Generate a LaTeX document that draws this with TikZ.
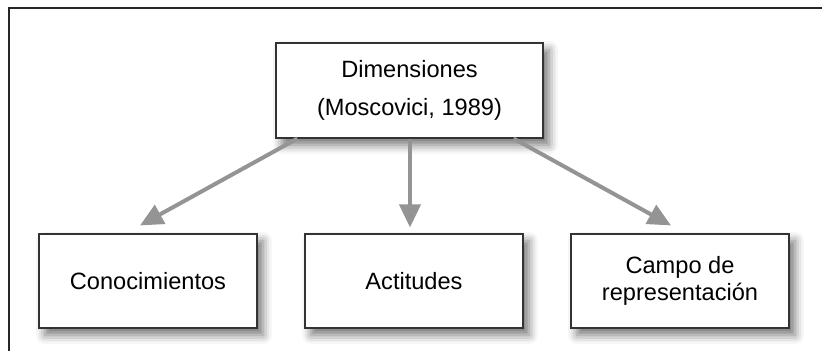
\documentclass[tikz,border=0pt]{standalone}
\usepackage{fontspec}
\setmainfont{Liberation Sans}
\usetikzlibrary{arrows.meta,calc,shadows.blur}
\newcommand{\bw}{218}

\begin{document}
\begin{tikzpicture}[x=1pt,y=1pt,
    caja/.style={draw=black!80,line width=1.1pt,fill=white,inner sep=0pt,
                 blur shadow={shadow xshift=6pt,shadow yshift=-7pt,shadow blur radius=9pt,shadow opacity=55}},
    flecha/.style={draw=black!42,line width=4pt,-{Triangle[length=23pt,width=21pt]}}]
                    \useasboundingbox (0,0) rectangle (822,351);
                    \coordinate (f1) at (822,343);
                    \coordinate (f2) at (9,0);
                    \draw[line width=2.6pt,black!85] (f1) -| (f2);
                    \node[caja,minimum width=267,minimum height=95,align=center,
                          font=\fontsize{23.6}{38}\selectfont] (dim) at (409.5,260.5)
                          {Dimensiones\\(Moscovici, 1989)};
                    \node[caja,minimum width=\bw,minimum height=94,align=center,
                          font=\fontsize{23.6}{27}\selectfont] (con) at (148,70) {Conocimientos};
                    \node[caja,minimum width=\bw,minimum height=94,align=center,
                          font=\fontsize{23.6}{27}\selectfont] (act) at (414,70) {Actitudes};
                    \node[caja,minimum width=\bw,minimum height=94,align=center,
                          font=\fontsize{23.6}{27}\selectfont] (cam) at (680,70) {Campo de\\representación};
                    \draw[flecha] ($(dim.south west)!0.082!(dim.south east)$) -- ($(con.north)+(-8,8)$);
                    \draw[flecha] ($(dim.south)+(0.5,0)$) -- ($(act.north)+(-4,6)$);
                    \draw[flecha] ($(dim.south west)!0.888!(dim.south east)$) -- ($(cam.north)+(-9,8)$);
\end{tikzpicture}
\end{document}
